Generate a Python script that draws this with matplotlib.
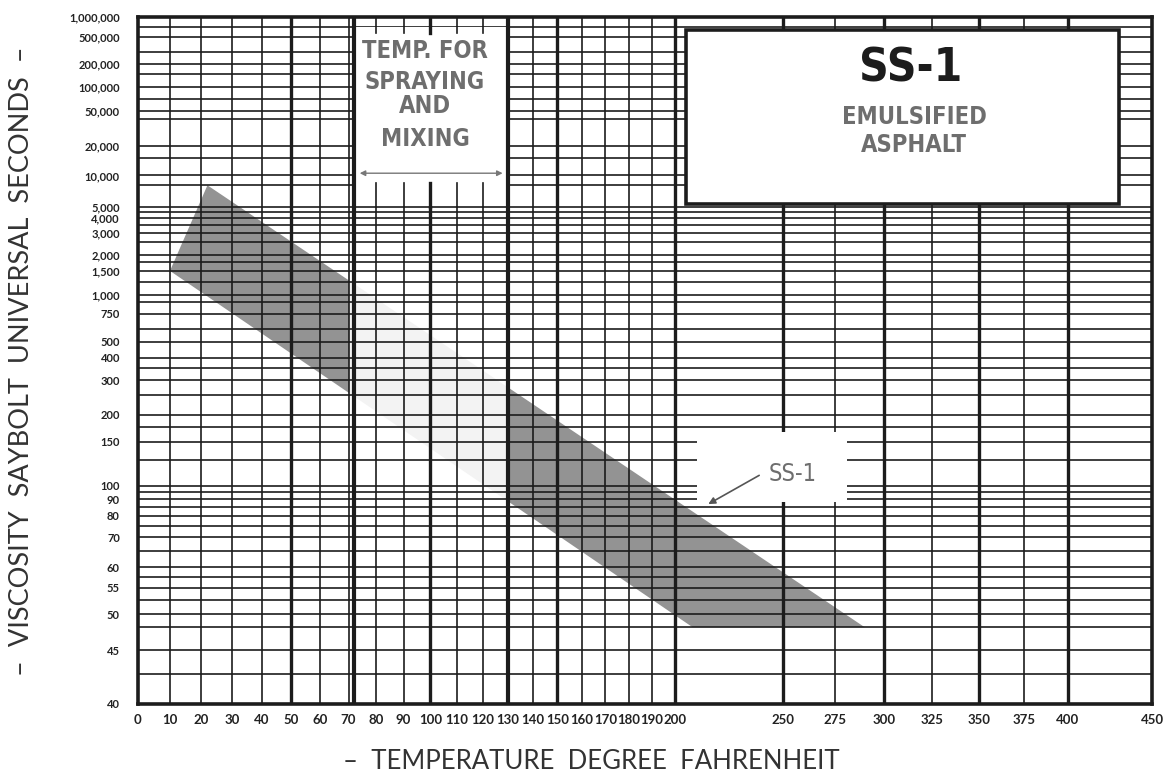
import numpy as np
import matplotlib
matplotlib.use("Agg")
import matplotlib.pyplot as plt
from matplotlib.patches import Rectangle, Polygon
from matplotlib.ticker import FixedLocator, NullLocator
from matplotlib import font_manager

# SS-1 viscosity band corners (deg F, Saybolt Universal Seconds)
band_temp = [10, 22, 290, 208]
band_sus = [1500, 8000, 48, 48]

# grid + tick values
x_grid = [0, 10, 20, 30, 40, 50, 60, 70, 80, 90, 100, 110, 120, 130, 140, 150,
          160, 170, 180, 190, 200, 250, 275, 300, 325, 350, 375, 400, 450]
x_thick = [50, 100, 150, 200, 250, 300, 350, 400]
x_ticks = x_grid
x_labels = [str(v) for v in x_ticks]

y_grid = [1000000, 700000, 500000, 300000, 200000, 150000, 100000, 70000, 50000,
          40000, 20000, 15000, 10000, 8000, 5000, 4500, 4000, 3500, 3000, 2500,
          2000, 1750, 1500, 1250, 1000, 900, 750, 600, 500, 400, 350, 300, 250,
          200, 175, 150, 125, 100, 95, 90, 85, 80, 75, 70, 65, 60, 57.5, 55,
          52.5, 50, 48, 45, 42.5, 40]
y_ticks = [1000000, 500000, 200000, 100000, 50000, 20000, 10000, 5000, 4000,
           3000, 2000, 1500, 1000, 750, 500, 400, 300, 200, 150, 100, 90, 80,
           70, 60, 55, 50, 45, 40]
y_labels = [f"{v:,}" for v in y_ticks]

# spraying / mixing range and the SS-1 title box
spray_range = (72, 130)
title_box_temp = (205, 430)
title_box_sus = (5400, 620000)
label_patch_temp = (210, 281)
label_patch_sus = (88, 165)


# ASTM D2161: kinematic viscosity (cSt) -> SUS
def cst_to_sus(nu):
    nu = np.asarray(nu, dtype=float)
    return 4.6324 * nu + (1.0 + 0.03264 * nu) / (
        (3930.2 + 262.7 * nu + 23.97 * nu ** 2 + 1.646 * nu ** 3) * 1e-5)


nu_tab = np.logspace(np.log10(1.5), np.log10(6e5), 5000)
sus_tab = cst_to_sus(nu_tab)


def y_fwd(s):
    s = np.clip(np.asarray(s, dtype=float), sus_tab[0], sus_tab[-1])
    nu = np.exp(np.interp(np.log(s), np.log(sus_tab), np.log(nu_tab)))
    return np.log10(np.log10(nu + 0.7))


def y_inv(u):
    nu = 10 ** (10 ** np.asarray(u, dtype=float)) - 0.7
    return cst_to_sus(np.clip(nu, 0.01, None))


def x_fwd(t):
    return np.log10(np.clip(np.asarray(t, dtype=float) + 460, 1, None))


def x_inv(u):
    return 10 ** np.asarray(u, dtype=float) - 460


names = {f.name for f in font_manager.fontManager.ttflist}
narrow = 'Liberation Sans Narrow' if 'Liberation Sans Narrow' in names else 'DejaVu Sans'
stencil = '#6e6e6e'
ink = '#1c1c1c'
band_col = '#939393'
cond = dict(family=narrow, fontstretch='condensed', fontweight='bold')

fig = plt.figure(figsize=(11.76, 7.82), dpi=100)
ax = fig.add_axes([138 / 1176, 1 - 704 / 782, 1014 / 1176, 687 / 782])
ax.set_xscale('function', functions=(x_fwd, x_inv))
ax.set_yscale('function', functions=(y_fwd, y_inv))
ax.set_xlim(0, 450)
ax.set_ylim(40, 1000000)

# band
band_xy = np.column_stack([band_temp, band_sus])
ax.add_patch(Polygon(band_xy, closed=True, facecolor=band_col, edgecolor='none', zorder=1))
# faint band through the spraying / mixing column
wipe = Rectangle((70, 40), spray_range[1] - 70, 1000000, facecolor='white',
                 edgecolor='none', zorder=1.5)
ax.add_patch(wipe)
faint = Polygon(band_xy, closed=True, facecolor='#f3f3f3', edgecolor='none', zorder=1.6)
ax.add_patch(faint)
faint.set_clip_path(wipe)

# grid
for v in x_grid:
    ax.axvline(v, color=ink, lw=2.4 if v in x_thick else 1.2, zorder=2)
for v in y_grid:
    ax.axhline(v, color=ink, lw=1.2, zorder=2)
for v in spray_range:
    ax.axvline(v, color=ink, lw=3.0, zorder=3.5)

# white box for spraying / mixing text
ax.add_patch(Rectangle((spray_range[0], 5100), spray_range[1] - spray_range[0],
                       690000 - 5100, facecolor='white', edgecolor='none', zorder=3))
inner = [v for v in x_grid if spray_range[0] < v < spray_range[1]]
for v in inner:
    lw = 2.4 if v in x_thick else 1.2
    ax.plot([v, v], [5000, 8500], color=ink, lw=lw, zorder=3.2)
    ax.plot([v, v], [560000, 700000], color=ink, lw=lw, zorder=3.2)
ax.annotate('', xy=(spray_range[0] + 1, 10500), xytext=(spray_range[1] - 1, 10500),
            arrowprops=dict(arrowstyle='<|-|>', color='#777777', lw=1.0,
                            mutation_scale=8), zorder=3.3)
for txt, yy in [('TEMP. FOR', 0.950), ('SPRAYING', 0.906), ('AND', 0.870), ('MIXING', 0.823)]:
    ax.text(0.283, yy, txt, transform=ax.transAxes, ha='center', va='center',
            fontsize=17, color=stencil, zorder=4, **cond)

# SS-1 title box
ax.add_patch(Rectangle((title_box_temp[0], title_box_sus[0]),
                       title_box_temp[1] - title_box_temp[0],
                       title_box_sus[1] - title_box_sus[0],
                       facecolor='white', edgecolor=ink, lw=2.6, zorder=3))
ax.text(0.7623, 0.9250, 'SS-1', transform=ax.transAxes, ha='center', va='center',
        fontsize=33, color=ink, zorder=4, **cond)
ax.text(0.7653, 0.8544, 'EMULSIFIED', transform=ax.transAxes, ha='center', va='center',
        fontsize=17, color=stencil, zorder=4, **cond)
ax.text(0.7653, 0.8137, 'ASPHALT', transform=ax.transAxes, ha='center', va='center',
        fontsize=17, color=stencil, zorder=4, **cond)

# SS-1 pointer label
lab_patch = Rectangle((label_patch_temp[0], label_patch_sus[0]),
                      label_patch_temp[1] - label_patch_temp[0],
                      label_patch_sus[1] - label_patch_sus[0],
                      facecolor='white', edgecolor='none', zorder=2.5)
ax.add_patch(lab_patch)
over = Polygon(band_xy, closed=True, facecolor=band_col, edgecolor='none', zorder=2.6)
ax.add_patch(over)
over.set_clip_path(lab_patch)
ax.text(0.646, 0.3348, 'SS-1', transform=ax.transAxes, ha='center', va='center',
        fontsize=17, family=narrow, fontstretch='condensed', color=stencil, zorder=4)
ax.annotate('', xy=(0.560, 0.289), xytext=(0.615, 0.3348), xycoords='axes fraction',
            arrowprops=dict(arrowstyle='-|>', color='#555555', lw=1.2,
                            mutation_scale=10), zorder=4)

# frame + ticks
for s in ax.spines.values():
    s.set_linewidth(2.6)
    s.set_color(ink)
    s.set_zorder(5)
ax.xaxis.set_major_locator(FixedLocator(x_ticks))
ax.xaxis.set_minor_locator(NullLocator())
ax.set_xticklabels(x_labels)
ax.yaxis.set_major_locator(FixedLocator(y_ticks))
ax.yaxis.set_minor_locator(NullLocator())
ax.set_yticklabels(y_labels)
ax.tick_params(axis='x', length=0, pad=7, labelsize=9.5, labelcolor='#222222')
ax.tick_params(axis='y', length=0, pad=13, labelsize=8, labelcolor='#222222')
for lab in ax.get_xticklabels() + ax.get_yticklabels():
    lab.set_family('Lato')
    lab.set_fontweight('bold')

fig.text(0.0187, 0.538, '–  VISCOSITY  SAYBOLT  UNIVERSAL  SECONDS  –', rotation=90,
         ha='center', va='center', fontsize=19.5, family='Lato', color='#333333')
fig.text(0.503, 0.0256, '–  TEMPERATURE  DEGREE  FAHRENHEIT', ha='center', va='center',
         fontsize=18.5, family='Lato', color='#333333')

fig.savefig('out.png', dpi=100)
